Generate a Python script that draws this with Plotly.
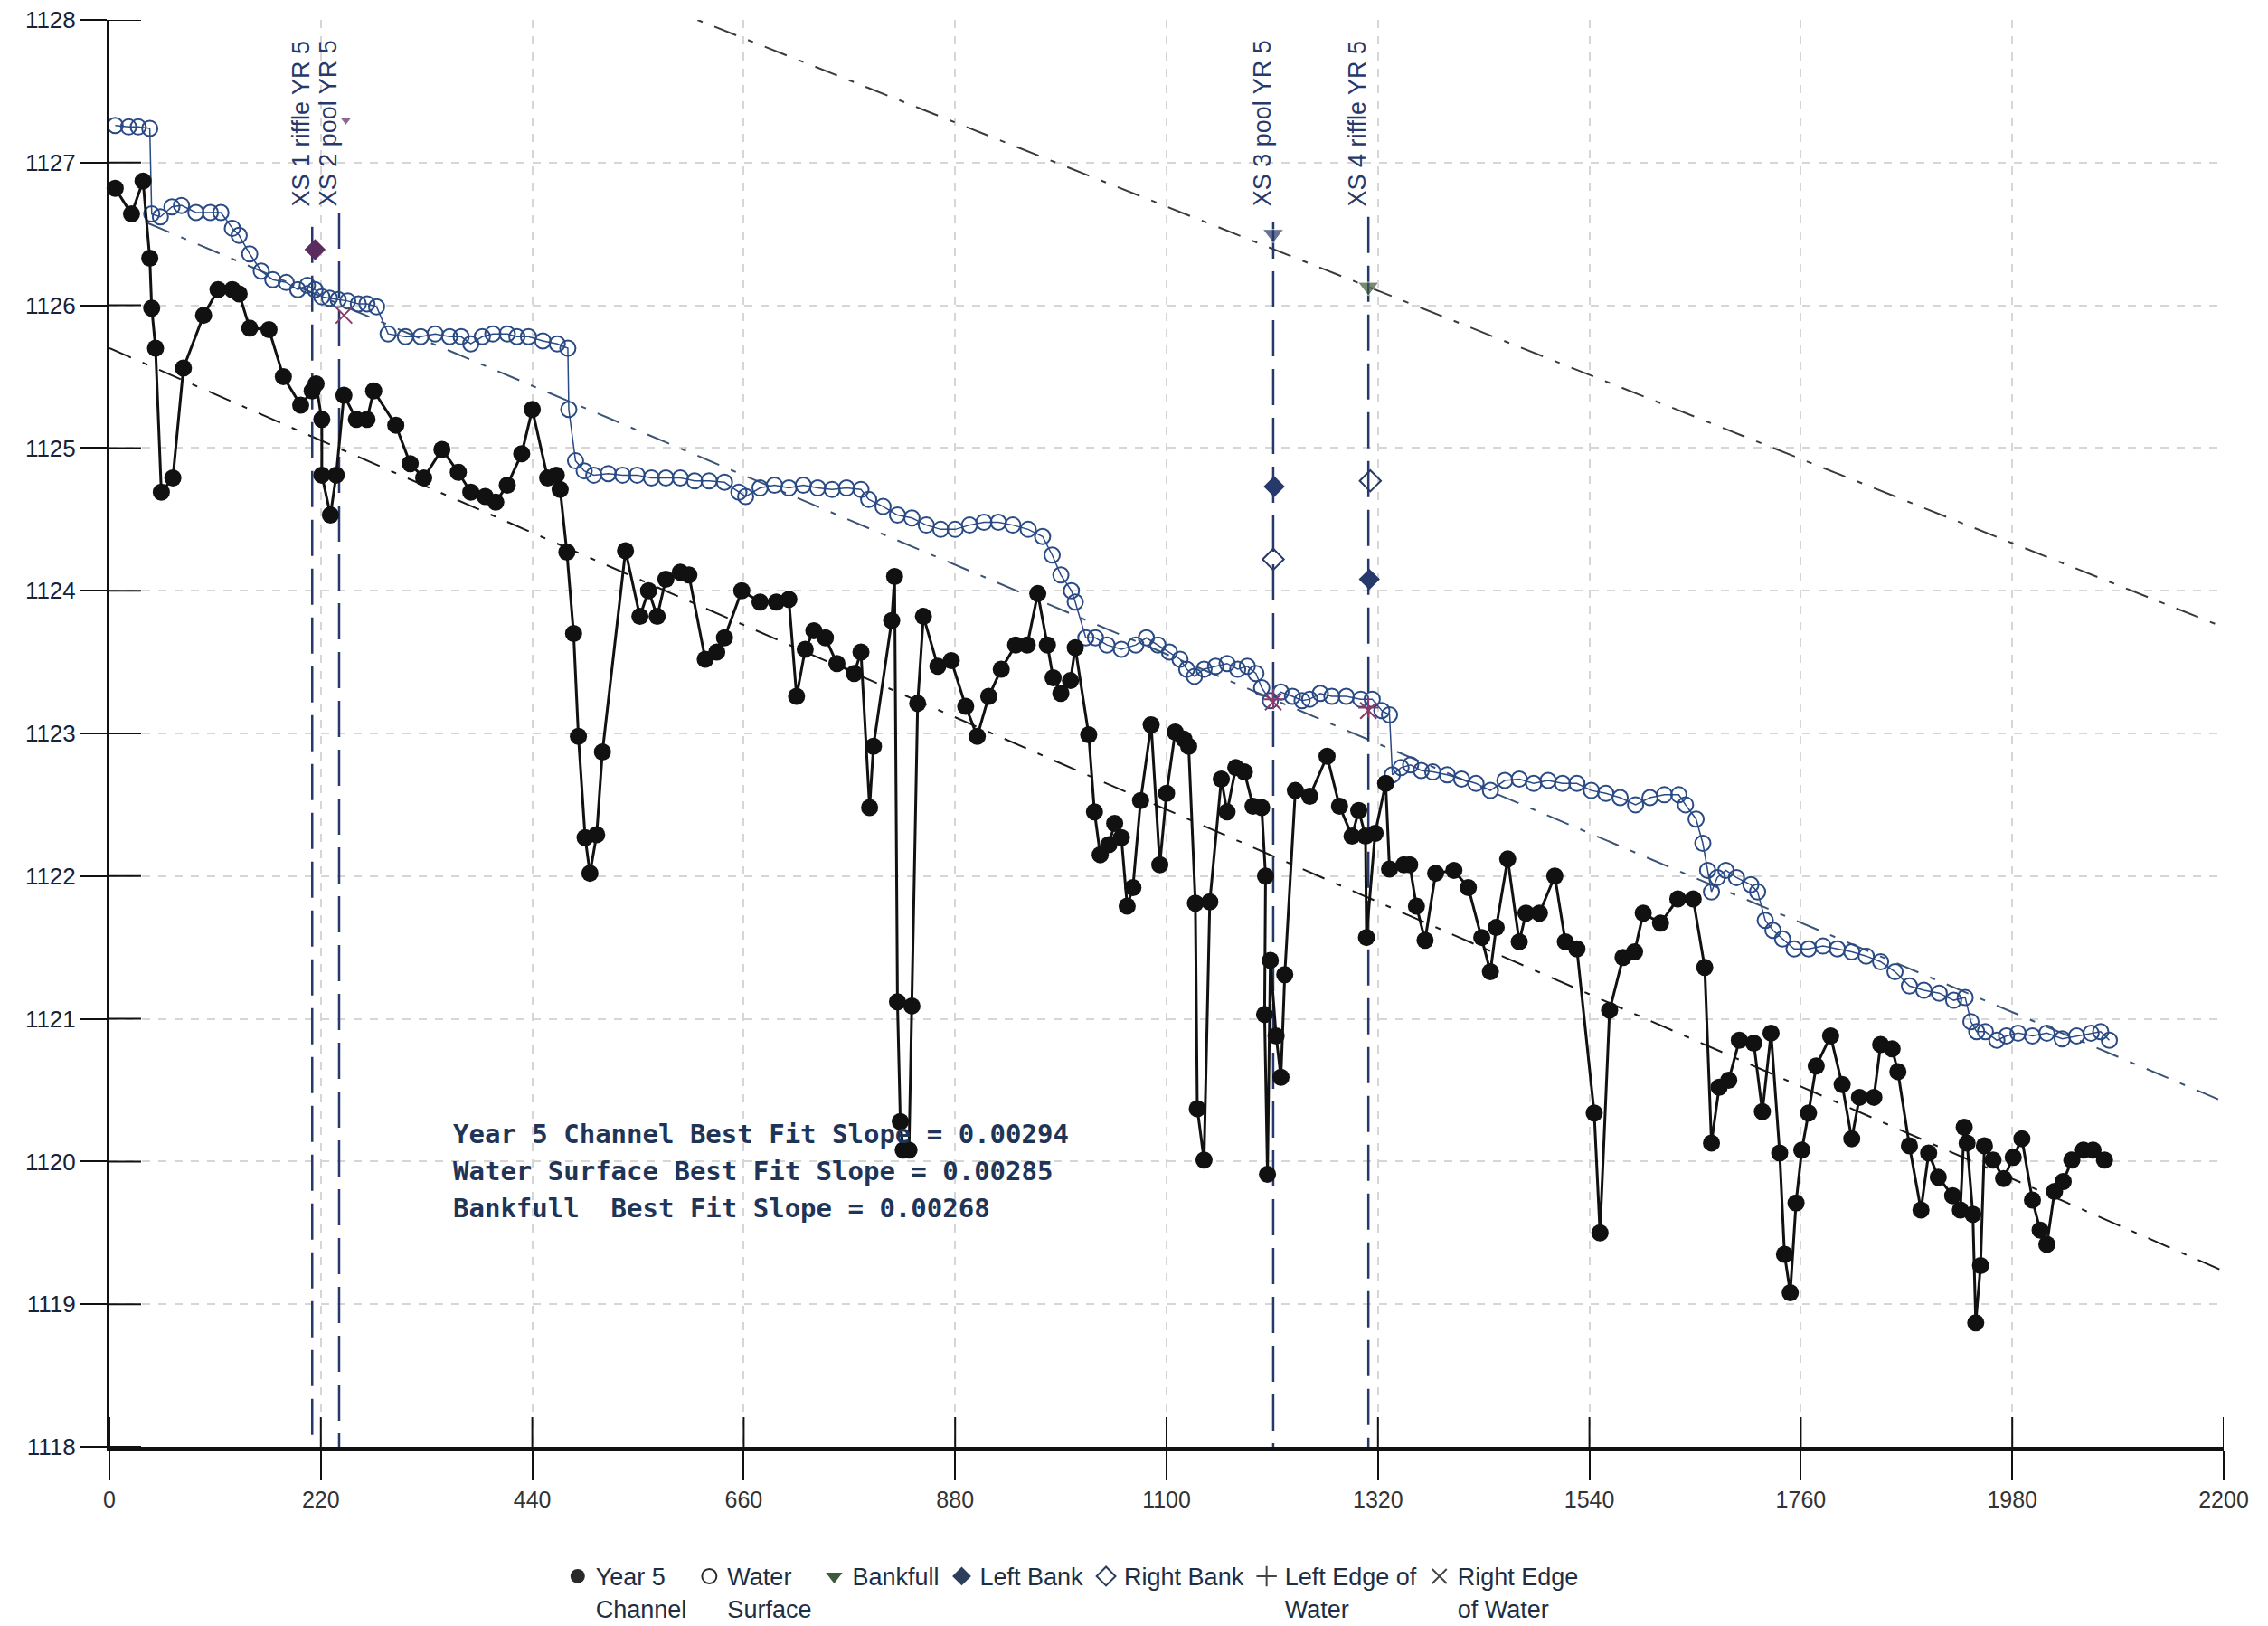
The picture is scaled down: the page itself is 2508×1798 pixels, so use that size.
import plotly.graph_objects as go

# ---- Year 5 channel thalweg profile (station ft, elevation ft)
channel_station = [6, 23, 35, 42, 44, 48, 54, 66, 77, 98, 113, 128, 135, 146, 166, 181, 199, 211, 215, 221,
                   221, 230, 236, 244, 257, 268, 275, 298, 313, 327, 346, 363, 376, 391, 402, 414, 429, 440, 456, 465,
                   469, 476, 483, 488, 495, 500, 507, 513, 537, 552, 561, 570, 579, 594, 603, 620, 632, 640, 658, 677,
                   694, 707, 715, 724, 733, 745, 757, 775, 782, 791, 795, 814, 817, 820, 823, 826, 832, 835, 841, 847,
                   862, 876, 891, 903, 915, 928, 943, 955, 966, 976, 982, 990, 1000, 1005, 1019, 1025, 1031, 1040, 1046, 1053,
                   1059, 1065, 1073, 1084, 1093, 1100, 1109, 1118, 1123, 1130, 1132, 1139, 1145, 1157, 1163, 1172, 1181, 1190, 1199, 1203,
                   1202, 1205, 1208, 1214, 1219, 1223, 1234, 1249, 1267, 1280, 1293, 1300, 1307, 1308, 1317, 1328, 1332, 1347, 1353, 1360,
                   1369, 1380, 1399, 1414, 1428, 1437, 1443, 1455, 1467, 1474, 1488, 1504, 1515, 1527, 1545, 1551, 1561, 1575, 1587, 1596,
                   1614, 1632, 1648, 1660, 1667, 1675, 1685, 1696, 1711, 1720, 1729, 1738, 1743, 1749, 1755, 1761, 1768, 1776, 1791, 1803,
                   1813, 1821, 1836, 1843, 1855, 1861, 1873, 1885, 1893, 1903, 1918, 1926, 1930, 1933, 1939, 1942, 1947, 1951, 1960, 1971,
                   1981, 1990, 2001, 2009, 2016, 2024, 2033, 2042, 2054, 2064, 2076]
channel_elev = [1126.82, 1126.64, 1126.87, 1126.33, 1125.98, 1125.70, 1124.69, 1124.79, 1125.56, 1125.93, 1126.11, 1126.11, 1126.08, 1125.84, 1125.83, 1125.50, 1125.30, 1125.40, 1125.45, 1125.20,
                1124.81, 1124.53, 1124.81, 1125.37, 1125.20, 1125.20, 1125.40, 1125.16, 1124.89, 1124.79, 1124.99, 1124.83, 1124.69, 1124.66, 1124.62, 1124.74, 1124.96, 1125.27, 1124.79, 1124.81,
                1124.71, 1124.27, 1123.70, 1122.98, 1122.27, 1122.02, 1122.29, 1122.87, 1124.28, 1123.82, 1124.00, 1123.82, 1124.08, 1124.13, 1124.11, 1123.52, 1123.57, 1123.67, 1124.00, 1123.92,
                1123.92, 1123.94, 1123.26, 1123.59, 1123.72, 1123.67, 1123.49, 1123.42, 1123.57, 1122.48, 1122.91, 1123.79, 1124.10, 1121.12, 1120.28, 1120.08, 1120.08, 1121.09, 1123.21, 1123.82,
                1123.47, 1123.51, 1123.19, 1122.98, 1123.26, 1123.45, 1123.62, 1123.62, 1123.98, 1123.62, 1123.39, 1123.28, 1123.37, 1123.60, 1122.99, 1122.45, 1122.15, 1122.22, 1122.37, 1122.27,
                1121.79, 1121.92, 1122.53, 1123.06, 1122.08, 1122.58, 1123.01, 1122.96, 1122.91, 1121.81, 1120.37, 1120.01, 1121.82, 1122.68, 1122.45, 1122.76, 1122.73, 1122.49, 1122.48, 1122.00,
                1121.03, 1119.91, 1121.41, 1120.88, 1120.59, 1121.31, 1122.60, 1122.56, 1122.84, 1122.49, 1122.28, 1122.46, 1122.28, 1121.57, 1122.30, 1122.65, 1122.05, 1122.08, 1122.08, 1121.79,
                1121.55, 1122.02, 1122.04, 1121.92, 1121.57, 1121.33, 1121.64, 1122.12, 1121.54, 1121.74, 1121.74, 1122.00, 1121.54, 1121.49, 1120.34, 1119.50, 1121.06, 1121.43, 1121.47, 1121.74,
                1121.67, 1121.84, 1121.84, 1121.36, 1120.13, 1120.52, 1120.57, 1120.85, 1120.83, 1120.35, 1120.90, 1120.06, 1119.35, 1119.08, 1119.71, 1120.08, 1120.34, 1120.67, 1120.88, 1120.54,
                1120.16, 1120.45, 1120.45, 1120.82, 1120.79, 1120.63, 1120.11, 1119.66, 1120.06, 1119.89, 1119.76, 1119.66, 1120.24, 1120.13, 1119.63, 1118.87, 1119.27, 1120.11, 1120.01, 1119.88,
                1120.03, 1120.16, 1119.73, 1119.52, 1119.42, 1119.79, 1119.86, 1120.01, 1120.08, 1120.08, 1120.01]

# ---- Water surface profile
water_station = [6, 20, 30, 42, 44, 53, 65, 75, 90, 105, 116, 128, 135, 146, 158, 170, 184, 196, 206, 214,
                 221, 229, 238, 248, 259, 268, 278, 290, 308, 324, 339, 354, 366, 376, 388, 399, 414, 424, 436, 451,
                 466, 477, 478, 485, 494, 504, 519, 534, 549, 564, 579, 594, 609, 624, 640, 655, 662, 677, 692, 707,
                 722, 737, 752, 767, 782, 790, 805, 820, 835, 850, 865, 880, 895, 910, 925, 940, 956, 971, 981, 990,
                 1001, 1005, 1016, 1026, 1038, 1053, 1068, 1079, 1091, 1103, 1114, 1121, 1129, 1139, 1151, 1163, 1174, 1184, 1193, 1199,
                 1208, 1219, 1231, 1241, 1249, 1260, 1272, 1287, 1302, 1314, 1324, 1332, 1335, 1344, 1354, 1365, 1377, 1392, 1407, 1422,
                 1437, 1452, 1467, 1482, 1497, 1512, 1527, 1542, 1557, 1572, 1588, 1603, 1618, 1633, 1640, 1651, 1658, 1663, 1667, 1673,
                 1682, 1693, 1708, 1715, 1723, 1731, 1741, 1753, 1768, 1783, 1798, 1813, 1828, 1843, 1858, 1873, 1888, 1904, 1919, 1931,
                 1937, 1943, 1952, 1964, 1974, 1986, 2001, 2016, 2032, 2047, 2062, 2072, 2081]
water_elev = [1127.26, 1127.25, 1127.25, 1127.24, 1126.64, 1126.62, 1126.69, 1126.70, 1126.65, 1126.65, 1126.65, 1126.54, 1126.49, 1126.36, 1126.24, 1126.18, 1126.16, 1126.11, 1126.14, 1126.11,
              1126.06, 1126.05, 1126.04, 1126.03, 1126.01, 1126.01, 1125.99, 1125.80, 1125.78, 1125.78, 1125.80, 1125.78, 1125.78, 1125.73, 1125.78, 1125.80, 1125.80, 1125.78, 1125.78, 1125.75,
              1125.73, 1125.70, 1125.27, 1124.91, 1124.84, 1124.81, 1124.82, 1124.81, 1124.81, 1124.79, 1124.79, 1124.79, 1124.77, 1124.77, 1124.76, 1124.69, 1124.66, 1124.72, 1124.74, 1124.72,
              1124.74, 1124.72, 1124.71, 1124.72, 1124.71, 1124.64, 1124.59, 1124.53, 1124.51, 1124.46, 1124.43, 1124.43, 1124.46, 1124.48, 1124.48, 1124.46, 1124.43, 1124.38, 1124.25, 1124.11,
              1124.00, 1123.92, 1123.67, 1123.67, 1123.62, 1123.59, 1123.62, 1123.67, 1123.62, 1123.57, 1123.52, 1123.45, 1123.40, 1123.45, 1123.47, 1123.49, 1123.45, 1123.47, 1123.42, 1123.32,
              1123.23, 1123.29, 1123.26, 1123.23, 1123.24, 1123.28, 1123.26, 1123.26, 1123.24, 1123.24, 1123.16, 1123.13, 1122.71, 1122.76, 1122.78, 1122.74, 1122.73, 1122.71, 1122.68, 1122.65,
              1122.60, 1122.67, 1122.68, 1122.65, 1122.67, 1122.65, 1122.65, 1122.60, 1122.58, 1122.55, 1122.50, 1122.55, 1122.57, 1122.57, 1122.50, 1122.40, 1122.23, 1122.04, 1121.89, 1121.99,
              1122.04, 1121.99, 1121.94, 1121.89, 1121.69, 1121.62, 1121.56, 1121.49, 1121.49, 1121.51, 1121.49, 1121.47, 1121.44, 1121.40, 1121.33, 1121.23, 1121.20, 1121.18, 1121.13, 1121.15,
              1120.98, 1120.91, 1120.91, 1120.85, 1120.88, 1120.90, 1120.88, 1120.90, 1120.86, 1120.88, 1120.90, 1120.91, 1120.85]

# ---- Best-fit lines: slope (ft/ft), elevation intercept at station 0, start/end stations
fit_slopes = [0.00294, 0.00285, 0.00268]
fit_intercepts = [1125.70, 1126.69, 1129.64]
fit_start = [0, 40, 0]
fit_end = [2200, 2200, 2200]

# ---- Cross-section locations
xs_labels = ["XS 1 riffle YR 5", "XS 2 pool YR 5", "XS 3 pool YR 5", "XS 4 riffle YR 5"]
xs_station = [211, 239, 1211, 1310]
xs_top = [1126.55, 1126.65, 1126.58, 1126.62]

# Cross-section survey points
bankfull_station = [246, 1211, 1310]
bankfull_elev = [1127.30, 1126.50, 1126.13]
left_bank_station = [214, 1212, 1311]
left_bank_elev = [1126.39, 1124.73, 1124.08]
right_bank_station = [1211, 1312]
right_bank_elev = [1124.22, 1124.77]
left_edge_station = [1211, 1310]
left_edge_elev = [1123.24, 1123.18]
right_edge_station = [244, 1211, 1310]
right_edge_elev = [1125.93, 1123.22, 1123.16]

x_ticks = [0, 220, 440, 660, 880, 1100, 1320, 1540, 1760, 1980, 2200]
y_ticks = [1118, 1119, 1120, 1121, 1122, 1123, 1124, 1125, 1126, 1127, 1128]

NAVY = "#27396a"
PURPLE = "#5b2c5e"
NARROW = "Liberation Sans Narrow, Arial Narrow, Liberation Sans, Arial, sans-serif"

fig = go.Figure()

# best-fit lines
fit_colors = ["#1a1a1a", "#3b5374", "#3a3a3a"]
for i in range(len(fit_slopes)):
    xs = [fit_start[i], fit_end[i]]
    ys = [fit_intercepts[i] - fit_slopes[i] * s for s in xs]
    fig.add_trace(go.Scatter(x=xs, y=ys, mode="lines", showlegend=False, hoverinfo="skip",
                             line=dict(color=fit_colors[i], width=2, dash="26px,14px,6px,14px")))

# cross-section lines
for s, top in zip(xs_station, xs_top):
    fig.add_trace(go.Scatter(x=[s, s], y=[top, 1118], mode="lines", showlegend=False, hoverinfo="skip",
                             line=dict(color=NAVY, width=2.5, dash="40px,14px")))

# water surface
fig.add_trace(go.Scatter(x=water_station, y=water_elev, mode="lines+markers", showlegend=False, cliponaxis=False,
                         line=dict(color="#2a4a85", width=1.5),
                         marker=dict(symbol="circle-open", size=17, color="#2a4a85", line=dict(width=2))))

# channel
fig.add_trace(go.Scatter(x=channel_station, y=channel_elev, mode="lines+markers", showlegend=False, cliponaxis=False,
                         line=dict(color="#111111", width=3),
                         marker=dict(symbol="circle", size=19, color="#111111")))

# cross-section points
fig.add_trace(go.Scatter(x=bankfull_station, y=bankfull_elev, mode="markers", showlegend=False, cliponaxis=False,
                         marker=dict(symbol="triangle-down", size=[12, 20, 20], color=[PURPLE, NAVY, "#3d5a3d"])))
fig.add_trace(go.Scatter(x=left_bank_station, y=left_bank_elev, mode="markers", showlegend=False,
                         marker=dict(symbol="diamond", size=18, color=[PURPLE, NAVY, NAVY])))
fig.add_trace(go.Scatter(x=right_bank_station, y=right_bank_elev, mode="markers", showlegend=False,
                         marker=dict(symbol="diamond-open", size=18, color=NAVY, line=dict(width=2))))
fig.add_trace(go.Scatter(x=left_edge_station, y=left_edge_elev, mode="markers", showlegend=False,
                         marker=dict(symbol="cross-thin-open", size=16, color="#8a3a6a", line=dict(width=2))))
fig.add_trace(go.Scatter(x=right_edge_station, y=right_edge_elev, mode="markers", showlegend=False,
                         marker=dict(symbol="x-thin-open", size=18, color="#8a3a6a", line=dict(width=2))))

# legend entries
legend_items = [
    ("Year 5<br>Channel", dict(symbol="circle", size=16, color="#2a2a2a")),
    ("Water<br>Surface", dict(symbol="circle-open", size=16, color="#2a2a2a", line=dict(width=2))),
    ("Bankfull", dict(symbol="triangle-down", size=16, color="#3d5a3d")),
    ("Left Bank", dict(symbol="diamond", size=16, color="#2c3e5c")),
    ("Right Bank", dict(symbol="diamond-open", size=16, color="#2c3e5c", line=dict(width=2))),
    ("Left Edge of<br>Water", dict(symbol="cross-thin-open", size=16, color="#444444", line=dict(width=2))),
    ("Right Edge<br>of Water", dict(symbol="x-thin-open", size=16, color="#444444", line=dict(width=2))),
]
for name, mk in legend_items:
    fig.add_trace(go.Scatter(x=[None], y=[None], mode="markers", name=name, marker=mk))

annotations = []
for lab, s in zip(xs_labels, xs_station):
    annotations.append(dict(x=s, y=1126.68, xref="x", yref="y", text=lab, textangle=-90, showarrow=False,
                            xanchor="center", yanchor="bottom", xshift=-12,
                            font=dict(family="Liberation Sans, Arial, sans-serif", size=27, color=NAVY)))

slope_lines = [
    ("Year 5 Channel Best Fit Slope = 0.00294", 1120.19),
    ("Water Surface Best Fit Slope = 0.00285", 1119.93),
    ("Bankfull\u00a0 Best Fit Slope = 0.00268", 1119.67),
]
for txt, yv in slope_lines:
    annotations.append(dict(x=356, y=yv, xref="x", yref="y", text="<b>" + txt + "</b>", showarrow=False,
                            xanchor="left", yanchor="middle",
                            font=dict(family="DejaVu Sans Mono, monospace", size=29, color="#1f3558")))

# tick marks on the inner side of each axis
shapes = []
for v in y_ticks:
    shapes.append(dict(type="line", xref="x", yref="y", xsizemode="pixel", xanchor=0, x0=0, x1=35,
                       y0=v, y1=v, line=dict(color="#111111", width=2)))
for v in x_ticks:
    shapes.append(dict(type="line", xref="x", yref="y", ysizemode="pixel", yanchor=1118, y0=0, y1=33,
                       x0=v, x1=v, line=dict(color="#111111", width=2)))

fig.update_layout(
    width=2508, height=1798,
    margin=dict(l=121, r=49, t=22, b=198, autoexpand=False),
    paper_bgcolor="white", plot_bgcolor="white",
    showlegend=True,
    legend=dict(orientation="h", x=0.455, xanchor="center", xref="paper",
                y=0.044, yanchor="top", yref="container", valign="top",
                font=dict(family=NARROW, size=27, color="#1e2e45"), itemwidth=30,
                bgcolor="rgba(0,0,0,0)", traceorder="normal"),
    annotations=annotations,
    shapes=shapes,
)
fig.update_xaxes(range=[0, 2200], tickvals=x_ticks, ticks="outside", ticklen=33, tickwidth=2, tickcolor="#111111",
                 showline=True, linecolor="#111111", linewidth=4, zeroline=False, automargin=False,
                 showgrid=True, gridcolor="#d6d6d6", gridwidth=2, griddash="dash",
                 tickfont=dict(family=NARROW, size=25, color="#333333"))
fig.update_yaxes(range=[1118, 1128], tickvals=y_ticks, ticks="outside", ticklen=29, tickwidth=2, tickcolor="#111111",
                 showline=True, linecolor="#111111", linewidth=3, zeroline=False, automargin=False,
                 showgrid=True, gridcolor="#d6d6d6", gridwidth=2, griddash="dash",
                 tickfont=dict(family=NARROW, size=26, color="#16233a"))

fig.write_html("out.html")
